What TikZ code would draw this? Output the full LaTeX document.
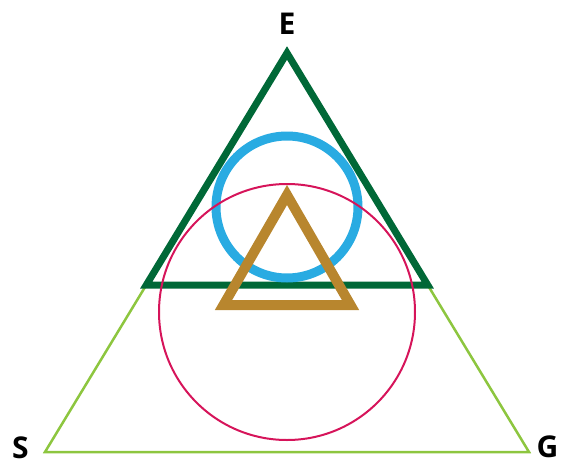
\documentclass[tikz,border=0pt]{standalone}
\usepackage{fontspec}
\setmainfont{Open Sans}
\usetikzlibrary{calc}
\definecolor{trilight}{RGB}{141,198,63}
\definecolor{tridark}{RGB}{0,104,55}
\definecolor{ringblue}{RGB}{41,171,226}
\definecolor{ringred}{RGB}{214,20,90}
\definecolor{tribrown}{RGB}{184,134,46}

\begin{document}
\begin{tikzpicture}[x=1pt, y=-1pt,
  outertri/.style={draw=trilight, line width=2.5pt},
  uppertri/.style={draw=tridark, line width=7pt},
  innertri/.style={draw=tribrown, line width=10pt},
  bluering/.style={draw=ringblue, line width=9pt},
  redring/.style={draw=ringred, line width=2pt},
  vlabel/.style={font=\fontsize{30}{30}\selectfont\bfseries, anchor=base, inner sep=0pt}
]
\useasboundingbox (0,0) rectangle (566,464);
% vertices
\coordinate (S) at (45,452);
\coordinate (G) at (529,452);
\coordinate (E) at (287,53);
\coordinate (ES) at ($(E)!0.5815!(S)$);
\coordinate (EG) at ($(E)!0.5815!(G)$);
% triangles and circles
\draw[outertri] (S) -- (G) -- (E) -- cycle;
\draw[uppertri] (E) -- (ES) -- (EG) -- cycle;
\draw[bluering] (287,207) circle[radius=71];
\draw[redring] (287,312) circle[radius=128];
\draw[innertri] (287,195) -- (223.5,305) -- (350.5,305) -- cycle;
% labels
\node[vlabel] (lE) at (287,34) {E};
\node[vlabel] (lS) at (20.5,458) {S};
\node[vlabel] (lG) at (547.5,457) {G};
\end{tikzpicture}
\end{document}
